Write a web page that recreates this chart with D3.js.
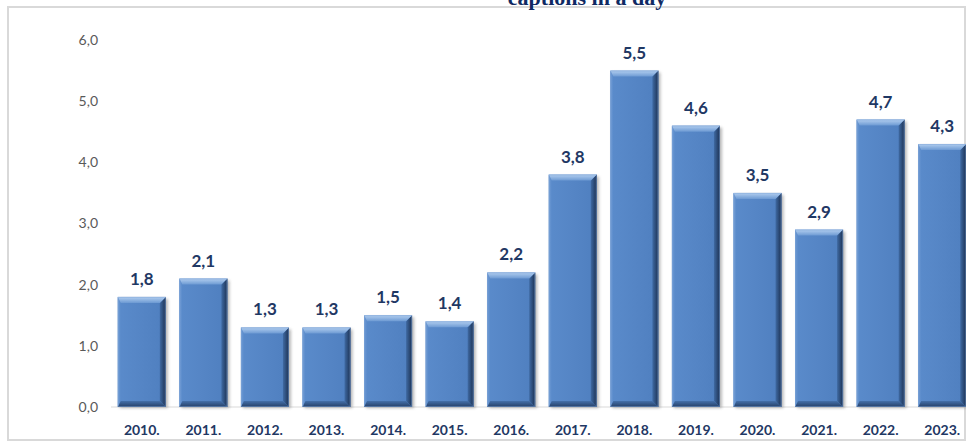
<!DOCTYPE html>
<html>
<head>
<meta charset="utf-8">
<script src="https://cdn.jsdelivr.net/npm/d3@7"></script>
<style>
  html, body { margin: 0; padding: 0; background: #ffffff; }
  svg { display: block; }
</style>
</head>
<body>
<svg id="chart" width="966" height="442"></svg>
<script>
// Yearly values
const years = ["2010.", "2011.", "2012.", "2013.", "2014.", "2015.", "2016.",
               "2017.", "2018.", "2019.", "2020.", "2021.", "2022.", "2023."];
const values = [1.8, 2.1, 1.3, 1.3, 1.5, 1.4, 2.2, 3.8, 5.5, 4.6, 3.5, 2.9, 4.7, 4.3];
const yTicks = [0, 1, 2, 3, 4, 5, 6];
const titleText = "captions in a day";

const svg = d3.select("#chart");
const fmt = v => d3.format(".1f")(v).replace(".", ",");

const x = d3.scaleBand().domain(years).range([111, 973]).paddingInner(0.22).paddingOuter(0.11);
const y = d3.scaleLinear().domain([0, 6]).range([407, 40]);

const defs = svg.append("defs");
const blur = defs.append("filter").attr("id", "shadow").attr("x", "-20%").attr("y", "-20%").attr("width", "140%").attr("height", "140%");
blur.append("feGaussianBlur").attr("stdDeviation", 1.6);

function grad(id, dir, stops) {
  const g = defs.append("linearGradient").attr("id", id)
    .attr("x1", dir[0]).attr("y1", dir[1]).attr("x2", dir[2]).attr("y2", dir[3]);
  stops.forEach(s => g.append("stop").attr("offset", s[0]).attr("stop-color", s[1]));
}
grad("body", ["0", "0", "1", "0"], [[0, "#5a8bcb"], [0.5, "#5585c5"], [1, "#4f7fbf"]]);
grad("topB", ["0", "0", "0", "1"], [[0, "#b3cff0"], [1, "#6d9ad3"]]);
grad("leftB", ["0", "0", "1", "0"], [[0, "#6f9bd4"], [1, "#5a8bcb"]]);
grad("rightB", ["0", "0", "1", "0"], [[0, "#3f6aa3"], [1, "#1c3152"]]);
grad("botB", ["0", "0", "0", "1"], [[0, "#4470aa"], [1, "#253f66"]]);

// Chart frame
svg.append("rect").attr("x", 8).attr("y", 7).attr("width", 957).attr("height", 433)
  .attr("fill", "none").attr("stroke", "#d9d9d9").attr("stroke-width", 2);

// Title (last line)
svg.append("text").attr("x", 587).attr("y", 5).attr("text-anchor", "middle")
  .attr("font-family", "'Liberation Serif', 'Times New Roman', serif")
  .attr("font-weight", "bold").attr("font-size", 22).attr("fill", "#0f2a63")
  .text(titleText);

// Y axis labels
svg.append("g").selectAll("text").data(yTicks).join("text")
  .attr("x", 98).attr("y", d => y(d)).attr("dy", "0.35em").attr("text-anchor", "end")
  .attr("font-family", "Lato, 'Open Sans', sans-serif").attr("font-size", 14)
  .attr("fill", "#595959").text(fmt);

// Baseline
svg.append("line").attr("x1", 111).attr("x2", 966).attr("y1", y(0)).attr("y2", y(0))
  .attr("stroke", "#d9d9d9").attr("stroke-width", 1.2);

// Bevelled bars
const bev = 6;
const bars = svg.append("g").selectAll("g").data(values).join("g");

bars.append("rect")
  .attr("x", (d, i) => x(years[i]) + 2).attr("y", d => y(d) + 2)
  .attr("width", x.bandwidth()).attr("height", d => y(0) - y(d) - 1)
  .attr("fill", "#7a7a7a").attr("opacity", 0.55).attr("filter", "url(#shadow)");

bars.append("rect")
  .attr("x", (d, i) => x(years[i])).attr("y", d => y(d))
  .attr("width", x.bandwidth()).attr("height", d => y(0) - y(d))
  .attr("fill", "url(#body)");

function poly(pts) { return pts.map(p => p.join(",")).join(" "); }
function corners(d, i) {
  const x0 = x(years[i]), x1 = x0 + x.bandwidth(), y0 = y(d), y1 = y(0);
  return { x0, x1, y0, y1 };
}
bars.append("polygon").attr("fill", "url(#leftB)").attr("points", (d, i) => {
  const c = corners(d, i);
  return poly([[c.x0, c.y0], [c.x0 + bev * 0.5, c.y0 + bev], [c.x0 + bev * 0.5, c.y1 - bev], [c.x0, c.y1]]);
});
bars.append("polygon").attr("fill", "url(#rightB)").attr("points", (d, i) => {
  const c = corners(d, i);
  return poly([[c.x1, c.y0], [c.x1 - bev, c.y0 + bev], [c.x1 - bev, c.y1 - bev], [c.x1, c.y1]]);
});
bars.append("polygon").attr("fill", "url(#botB)").attr("points", (d, i) => {
  const c = corners(d, i);
  return poly([[c.x0, c.y1], [c.x0 + bev * 0.5, c.y1 - bev], [c.x1 - bev, c.y1 - bev], [c.x1, c.y1]]);
});
bars.append("polygon").attr("fill", "url(#topB)").attr("points", (d, i) => {
  const c = corners(d, i);
  return poly([[c.x0, c.y0], [c.x1, c.y0], [c.x1 - bev, c.y0 + bev], [c.x0 + bev * 0.5, c.y0 + bev]]);
});
bars.append("rect")
  .attr("x", (d, i) => x(years[i]) + 0.5).attr("y", d => y(d) + 0.5)
  .attr("width", x.bandwidth() - 1).attr("height", d => y(0) - y(d) - 1)
  .attr("fill", "none").attr("stroke", "#7fa6d8").attr("stroke-opacity", 0.5).attr("stroke-width", 1);

// Value labels
svg.append("g").selectAll("text").data(values).join("text")
  .attr("x", (d, i) => x(years[i]) + x.bandwidth() / 2).attr("y", d => y(d) - 12)
  .attr("text-anchor", "middle")
  .attr("font-family", "Lato, 'Open Sans', sans-serif").attr("font-weight", "bold")
  .attr("font-size", 17).attr("fill", "#1f3864").text(fmt);

// Year labels
svg.append("g").selectAll("text").data(years).join("text")
  .attr("x", d => x(d) + x.bandwidth() / 2).attr("y", 435)
  .attr("text-anchor", "middle")
  .attr("font-family", "Lato, 'Open Sans', sans-serif").attr("font-weight", "bold")
  .attr("font-size", 14).attr("fill", "#1f3864").text(d => d);
</script>
</body>
</html>
